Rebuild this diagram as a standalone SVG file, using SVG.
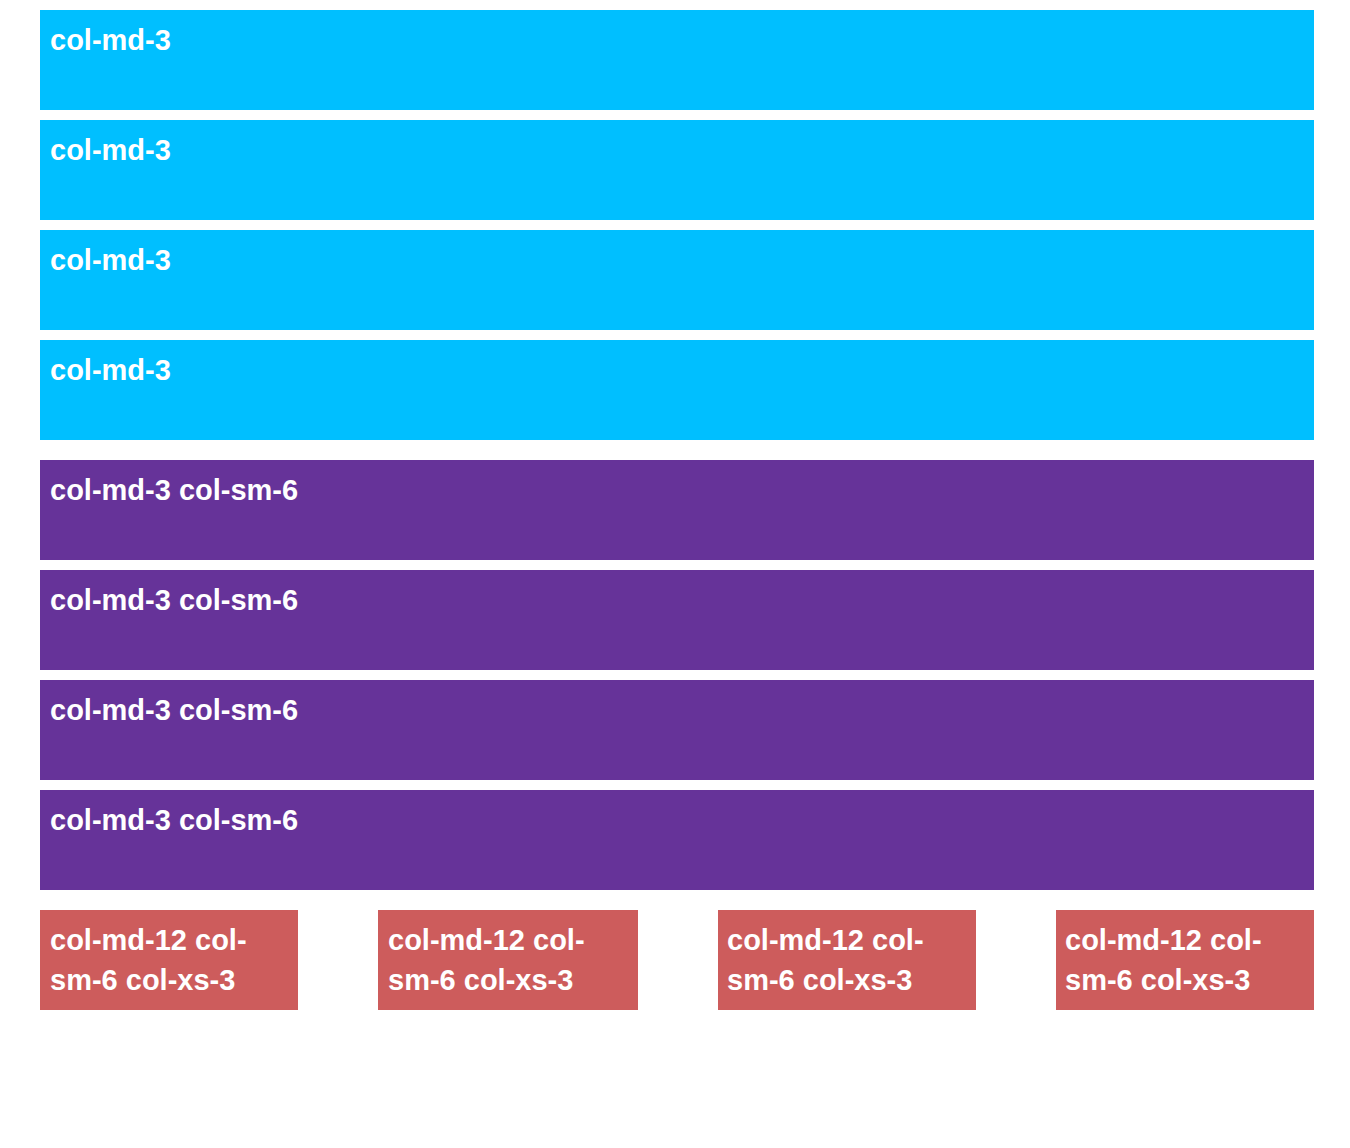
<svg xmlns="http://www.w3.org/2000/svg" width="1350" height="1148" viewBox="0 0 1350 1148">
<style>
.b{fill:#00bfff}.p{fill:#663399}.r{fill:#cd5c5c}
text{font-family:"Liberation Sans",Arial,sans-serif;font-weight:bold;font-size:29px;fill:#fff}
</style>
<rect width="1350" height="1148" fill="#fff"/>
<g id="blue1"><rect class="b" x="40" y="10" width="1274" height="100"/><text x="50" y="50">col-md-3</text></g>
<g id="blue2"><rect class="b" x="40" y="120" width="1274" height="100"/><text x="50" y="160">col-md-3</text></g>
<g id="blue3"><rect class="b" x="40" y="230" width="1274" height="100"/><text x="50" y="270">col-md-3</text></g>
<g id="blue4"><rect class="b" x="40" y="340" width="1274" height="100"/><text x="50" y="380">col-md-3</text></g>
<g id="purple1"><rect class="p" x="40" y="460" width="1274" height="100"/><text x="50" y="500">col-md-3 col-sm-6</text></g>
<g id="purple2"><rect class="p" x="40" y="570" width="1274" height="100"/><text x="50" y="610">col-md-3 col-sm-6</text></g>
<g id="purple3"><rect class="p" x="40" y="680" width="1274" height="100"/><text x="50" y="720">col-md-3 col-sm-6</text></g>
<g id="purple4"><rect class="p" x="40" y="790" width="1274" height="100"/><text x="50" y="830">col-md-3 col-sm-6</text></g>
<g id="red1"><rect class="r" x="40" y="910" width="258" height="100"/><text x="50" y="950">col-md-12 col-</text><text x="50" y="990">sm-6 col-xs-3</text></g>
<g id="red2"><rect class="r" x="378" y="910" width="260" height="100"/><text x="388" y="950">col-md-12 col-</text><text x="388" y="990">sm-6 col-xs-3</text></g>
<g id="red3"><rect class="r" x="718" y="910" width="258" height="100"/><text x="727" y="950">col-md-12 col-</text><text x="727" y="990">sm-6 col-xs-3</text></g>
<g id="red4"><rect class="r" x="1056" y="910" width="258" height="100"/><text x="1065" y="950">col-md-12 col-</text><text x="1065" y="990">sm-6 col-xs-3</text></g>
<g id="connectors"/>
</svg>
